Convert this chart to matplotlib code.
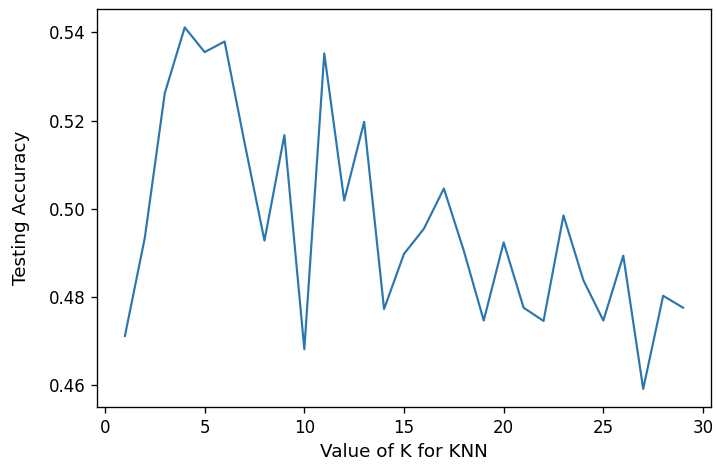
import matplotlib
matplotlib.use('Agg')
import matplotlib.pyplot as plt

# --- data ---
k_range = list(range(1, 30))
scores = [0.4712, 0.4935, 0.5262, 0.5411, 0.5355, 0.5379, 0.5150, 0.4928,
          0.5167, 0.4682, 0.5352, 0.5019, 0.5197, 0.4773, 0.4898, 0.4955,
          0.5046, 0.4905, 0.4747, 0.4924, 0.4776, 0.4746, 0.4985, 0.4838,
          0.4747, 0.4894, 0.4592, 0.4803, 0.4776]

# reference looks like a default figure blown up ~1.2x, so render at 120 dpi
DPI = 120
fig = plt.figure(figsize=(716 / DPI, 465 / DPI), dpi=DPI)
ax = fig.add_axes([0.1355, 0.1247, 0.8575, 0.8553])
ax.plot(k_range, scores, color='#2a77b0', linewidth=1.3)
ax.set_xlabel('Value of K for KNN', fontsize=11)
ax.set_ylabel('Testing Accuracy', fontsize=11, labelpad=11)
ax.set_yticks([0.46, 0.48, 0.50, 0.52, 0.54])
ax.set_xticks([0, 5, 10, 15, 20, 25, 30])

fig.savefig('out.png', dpi=DPI, facecolor='white')
